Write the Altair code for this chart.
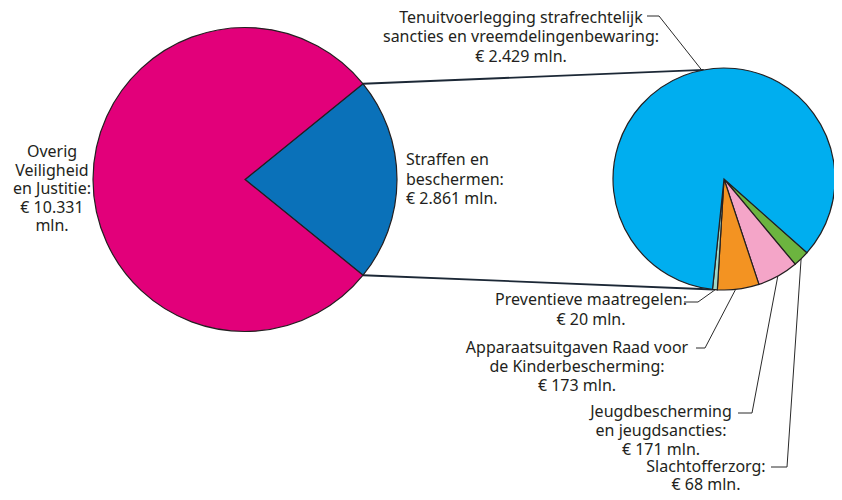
import math
import altair as alt
import pandas as pd

# ---- data ----
left_cats = ["Straffen en beschermen", "Overig Veiligheid en Justitie"]
left_vals = [2861, 10331]

right_cats = [
    "Slachtofferzorg",
    "Jeugdbescherming en jeugdsancties",
    "Apparaatsuitgaven Raad voor de Kinderbescherming",
    "Preventieve maatregelen",
    "Tenuitvoerlegging strafrechtelijk sancties en vreemdelingenbewaring",
]
right_vals = [68, 171, 173, 20, 2429]

all_cats = left_cats + right_cats
all_colors = ["#0a71b9", "#e2007a", "#6cb43f", "#f4a5c8", "#f39322", "#9fd6c6", "#00aeef"]

label_lines = [
    ["Tenuitvoerlegging strafrechtelijk", "sancties en vreemdelingenbewaring:", "€ 2.429 mln."],
    ["Overig", "Veiligheid", "en Justitie:", "€ 10.331", "mln."],
    ["Straffen en", "beschermen:", "€ 2.861 mln."],
    ["Preventieve maatregelen:", "€ 20 mln."],
    ["Apparaatsuitgaven Raad voor", "de Kinderbescherming:", "€ 173 mln."],
    ["Jeugdbescherming", "en jeugdsancties:", "€ 171 mln."],
    ["Slachtofferzorg:", "€ 68 mln."],
]

# ---- layout (page pixel coordinates; chart origin is at page (8, 8)) ----
OFF = 8
left_center = (245, 179.5)
left_r = 152
right_center = (724, 179)
right_r = 111

left_start = math.radians(90 - 180 * left_vals[0] / sum(left_vals))
right_start = math.radians(131.6)


def on_right(deg):
    t = math.radians(deg)
    return (right_center[0] + right_r * math.sin(t), right_center[1] - right_r * math.cos(t))


def on_left(deg):
    t = math.radians(deg)
    return (left_center[0] + left_r * math.sin(t), left_center[1] - left_r * math.cos(t))


label_pos = [  # (x, first line y, line step, align)
    (521, 17.5, 19.5, "center"),
    (52, 152, 18.5, "center"),
    (406, 160, 19.5, "left"),
    (591, 300, 20, "center"),
    (577, 348, 19, "center"),
    (661, 412, 19, "center"),
    (706, 467, 18, "center"),
]

lb = math.degrees(left_start)
connectors = [
    (on_left(lb), on_right(349.5)),
    (on_left(180 - lb), on_right(185.5)),
]
leaders = [
    [(647, 16), (659, 16), on_right(348.5)],
    [(684, 302), (698, 302), on_right(184.5)],
    [(696, 348), (705, 348), on_right(174)],
    [(738, 413), (752, 413), on_right(151)],
    [(771, 467), (787, 467), on_right(136)],
]

color_scale = alt.Scale(domain=all_cats, range=all_colors)

df_left = pd.DataFrame({"cat": left_cats, "lval": left_vals, "ord": range(len(left_cats))})
df_right = pd.DataFrame({"cat": right_cats, "rval": right_vals, "ord": range(len(right_cats))})

pie_left = alt.Chart(df_left).mark_arc(stroke="#231f20", strokeWidth=1.2).encode(
    theta=alt.Theta("lval:Q", stack=True,
                    scale=alt.Scale(range=[left_start, left_start + 2 * math.pi])),
    order=alt.Order("ord:Q"),
    color=alt.Color("cat:N", scale=color_scale, legend=None),
    x=alt.value(left_center[0] - OFF), y=alt.value(left_center[1] - OFF),
    radius=alt.value(left_r),
)

pie_right = alt.Chart(df_right).mark_arc(stroke="#231f20", strokeWidth=1.2).encode(
    theta=alt.Theta("rval:Q", stack=True,
                    scale=alt.Scale(range=[right_start, right_start + 2 * math.pi])),
    order=alt.Order("ord:Q"),
    color=alt.Color("cat:N", scale=color_scale, legend=None),
    x=alt.value(right_center[0] - OFF), y=alt.value(right_center[1] - OFF),
    radius=alt.value(right_r),
)

seg_rows = []
for (a, b) in connectors:
    seg_rows.append({"x": a[0] - OFF, "y": a[1] - OFF, "x2": b[0] - OFF, "y2": b[1] - OFF, "kind": "conn"})
for pts in leaders:
    for a, b in zip(pts[:-1], pts[1:]):
        seg_rows.append({"x": a[0] - OFF, "y": a[1] - OFF, "x2": b[0] - OFF, "y2": b[1] - OFF, "kind": "lead"})
df_seg = pd.DataFrame(seg_rows)

conn = alt.Chart(df_seg).transform_filter(alt.datum.kind == "conn").mark_rule(
    color="#1c2836", strokeWidth=1.8).encode(
    x=alt.X("x:Q", scale=None), y=alt.Y("y:Q", scale=None), x2="x2:Q", y2="y2:Q")
lead = alt.Chart(df_seg).transform_filter(alt.datum.kind == "lead").mark_rule(
    color="#2a2a2a", strokeWidth=1).encode(
    x=alt.X("x:Q", scale=None), y=alt.Y("y:Q", scale=None), x2="x2:Q", y2="y2:Q")

text_layers = []
for lines, (tx, ty, step, al) in zip(label_lines, label_pos):
    rows = [{"t": s, "x": tx - OFF, "y": ty + i * step - OFF} for i, s in enumerate(lines)]
    text_layers.append(
        alt.Chart(pd.DataFrame(rows)).mark_text(
            align=al, baseline="middle", font="Noto Sans", fontSize=16, color="#231f20"
        ).encode(x=alt.X("x:Q", scale=None), y=alt.Y("y:Q", scale=None), text="t:N")
    )

chart = alt.layer(conn, lead, pie_left, pie_right, *text_layers).resolve_scale(
    theta="independent"
).properties(
    width=826, height=484, padding=0, autosize="none"
).configure_view(stroke=None)

chart.save("out.html", embed_options={"renderer": "svg", "actions": False})
